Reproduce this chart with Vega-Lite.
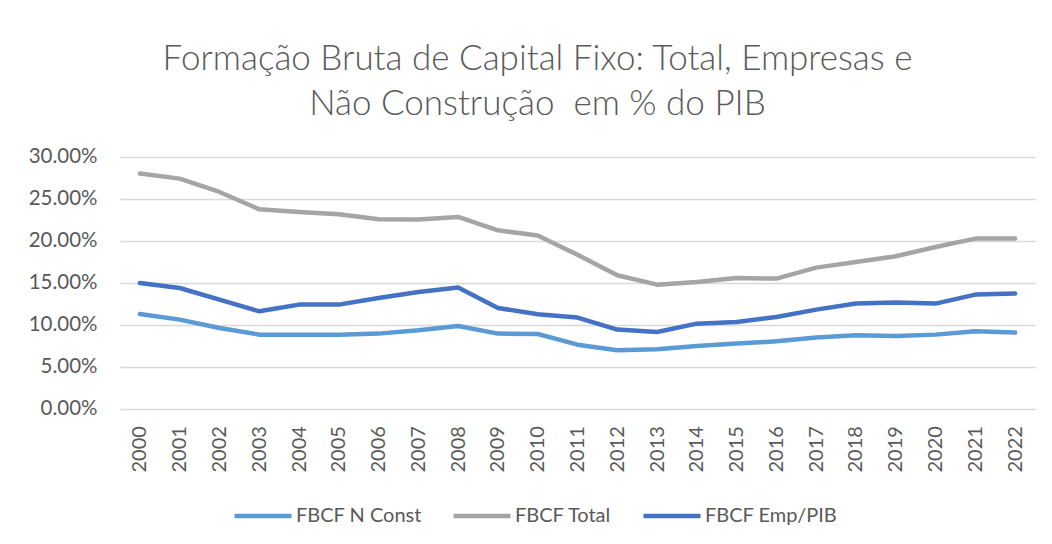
{
  "$schema": "https://vega.github.io/schema/vega-lite/v6.json",
  "autosize": "none",
  "width": 915,
  "height": 251.6,
  "padding": {"left": 120, "top": 157, "right": 17, "bottom": 135},
  "background": "white",
  "config": {
    "font": "Lato",
    "view": {"stroke": null}
  },
  "title": {
    "text": ["Formação Bruta de Capital Fixo: Total, Empresas e", "Não Construção \u00a0em % do PIB"],
    "anchor": "middle",
    "dx": -40,
    "offset": 25,
    "fontSize": 35,
    "fontWeight": 300,
    "lineHeight": 45,
    "color": "#595959",
    "font": "Lato"
  },
  "data": {
    "values": [
      {"year": 2000, "series": "FBCF N Const", "value": 0.1128},
      {"year": 2001, "series": "FBCF N Const", "value": 0.1061},
      {"year": 2002, "series": "FBCF N Const", "value": 0.0961},
      {"year": 2003, "series": "FBCF N Const", "value": 0.0882},
      {"year": 2004, "series": "FBCF N Const", "value": 0.0882},
      {"year": 2005, "series": "FBCF N Const", "value": 0.0880},
      {"year": 2006, "series": "FBCF N Const", "value": 0.0894},
      {"year": 2007, "series": "FBCF N Const", "value": 0.0934},
      {"year": 2008, "series": "FBCF N Const", "value": 0.0985},
      {"year": 2009, "series": "FBCF N Const", "value": 0.0894},
      {"year": 2010, "series": "FBCF N Const", "value": 0.0890},
      {"year": 2011, "series": "FBCF N Const", "value": 0.0762},
      {"year": 2012, "series": "FBCF N Const", "value": 0.0695},
      {"year": 2013, "series": "FBCF N Const", "value": 0.0707},
      {"year": 2014, "series": "FBCF N Const", "value": 0.0747},
      {"year": 2015, "series": "FBCF N Const", "value": 0.0775},
      {"year": 2016, "series": "FBCF N Const", "value": 0.0802},
      {"year": 2017, "series": "FBCF N Const", "value": 0.0847},
      {"year": 2018, "series": "FBCF N Const", "value": 0.0874},
      {"year": 2019, "series": "FBCF N Const", "value": 0.0866},
      {"year": 2020, "series": "FBCF N Const", "value": 0.0882},
      {"year": 2021, "series": "FBCF N Const", "value": 0.0922},
      {"year": 2022, "series": "FBCF N Const", "value": 0.0906},
      {"year": 2000, "series": "FBCF Total", "value": 0.2802},
      {"year": 2001, "series": "FBCF Total", "value": 0.2742},
      {"year": 2002, "series": "FBCF Total", "value": 0.2583},
      {"year": 2003, "series": "FBCF Total", "value": 0.2376},
      {"year": 2004, "series": "FBCF Total", "value": 0.2344},
      {"year": 2005, "series": "FBCF Total", "value": 0.2317},
      {"year": 2006, "series": "FBCF Total", "value": 0.2257},
      {"year": 2007, "series": "FBCF Total", "value": 0.2254},
      {"year": 2008, "series": "FBCF Total", "value": 0.2285},
      {"year": 2009, "series": "FBCF Total", "value": 0.2126},
      {"year": 2010, "series": "FBCF Total", "value": 0.2063},
      {"year": 2011, "series": "FBCF Total", "value": 0.1834},
      {"year": 2012, "series": "FBCF Total", "value": 0.1590},
      {"year": 2013, "series": "FBCF Total", "value": 0.1478},
      {"year": 2014, "series": "FBCF Total", "value": 0.1510},
      {"year": 2015, "series": "FBCF Total", "value": 0.1557},
      {"year": 2016, "series": "FBCF Total", "value": 0.1550},
      {"year": 2017, "series": "FBCF Total", "value": 0.1681},
      {"year": 2018, "series": "FBCF Total", "value": 0.1748},
      {"year": 2019, "series": "FBCF Total", "value": 0.1816},
      {"year": 2020, "series": "FBCF Total", "value": 0.1927},
      {"year": 2021, "series": "FBCF Total", "value": 0.2027},
      {"year": 2022, "series": "FBCF Total", "value": 0.2027},
      {"year": 2000, "series": "FBCF Emp/PIB", "value": 0.1498},
      {"year": 2001, "series": "FBCF Emp/PIB", "value": 0.1438},
      {"year": 2002, "series": "FBCF Emp/PIB", "value": 0.1300},
      {"year": 2003, "series": "FBCF Emp/PIB", "value": 0.1160},
      {"year": 2004, "series": "FBCF Emp/PIB", "value": 0.1240},
      {"year": 2005, "series": "FBCF Emp/PIB", "value": 0.1240},
      {"year": 2006, "series": "FBCF Emp/PIB", "value": 0.1319},
      {"year": 2007, "series": "FBCF Emp/PIB", "value": 0.1390},
      {"year": 2008, "series": "FBCF Emp/PIB", "value": 0.1443},
      {"year": 2009, "series": "FBCF Emp/PIB", "value": 0.1200},
      {"year": 2010, "series": "FBCF Emp/PIB", "value": 0.1124},
      {"year": 2011, "series": "FBCF Emp/PIB", "value": 0.1085},
      {"year": 2012, "series": "FBCF Emp/PIB", "value": 0.0942},
      {"year": 2013, "series": "FBCF Emp/PIB", "value": 0.0913},
      {"year": 2014, "series": "FBCF Emp/PIB", "value": 0.1013},
      {"year": 2015, "series": "FBCF Emp/PIB", "value": 0.1033},
      {"year": 2016, "series": "FBCF Emp/PIB", "value": 0.1092},
      {"year": 2017, "series": "FBCF Emp/PIB", "value": 0.1180},
      {"year": 2018, "series": "FBCF Emp/PIB", "value": 0.1252},
      {"year": 2019, "series": "FBCF Emp/PIB", "value": 0.1264},
      {"year": 2020, "series": "FBCF Emp/PIB", "value": 0.1252},
      {"year": 2021, "series": "FBCF Emp/PIB", "value": 0.1359},
      {"year": 2022, "series": "FBCF Emp/PIB", "value": 0.1371}
    ]
  },
  "mark": {"type": "line", "strokeWidth": 4.5, "strokeCap": "round", "strokeJoin": "round"},
  "encoding": {
    "x": {
      "field": "year",
      "type": "ordinal",
      "axis": {
        "title": null,
        "labelAngle": -90,
        "labelAlign": "right",
        "labelBaseline": "middle",
        "labelPadding": 17,
        "labelFontSize": 20,
        "labelColor": "#595959",
        "labelFont": "Lato",
        "domain": false,
        "ticks": false,
        "grid": false
      }
    },
    "y": {
      "field": "value",
      "type": "quantitative",
      "scale": {"domain": [0, 0.3], "nice": false},
      "axis": {
        "title": null,
        "format": ".2%",
        "values": [0, 0.05, 0.1, 0.15, 0.2, 0.25, 0.3],
        "labelPadding": 23,
        "labelFontSize": 20.5,
        "labelColor": "#595959",
        "labelFont": "Lato",
        "domain": false,
        "ticks": false,
        "grid": true,
        "gridColor": "#D9D9D9",
        "gridWidth": 1.3
      }
    },
    "color": {
      "field": "series",
      "type": "nominal",
      "scale": {
        "domain": ["FBCF N Const", "FBCF Total", "FBCF Emp/PIB"],
        "range": ["#5B9BD5", "#A5A5A5", "#4472C4"]
      },
      "legend": {
        "title": null,
        "orient": "none",
        "direction": "horizontal",
        "legendX": 112,
        "legendY": 328,
        "symbolType": "stroke",
        "symbolSize": 3249,
        "symbolStrokeWidth": 4.5,
        "labelFontSize": 20,
        "labelFont": "Lato",
        "labelColor": "#595959",
        "labelOffset": 2,
        "columnPadding": 22
      }
    }
  }
}
